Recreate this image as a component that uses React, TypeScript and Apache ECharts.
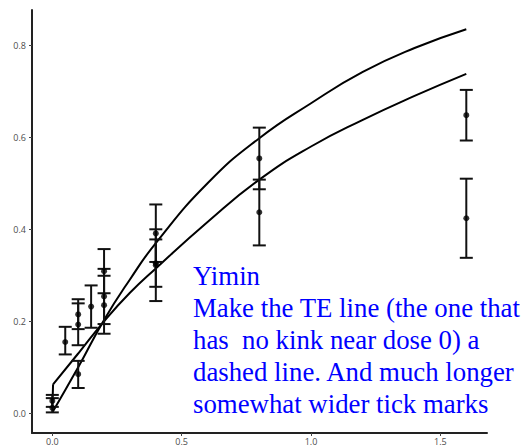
import React, { useEffect, useRef } from "react";
import * as echarts from "echarts";

// Observed data: dose, mean, lower, upper
const obsDose = [0, 0, 0.05, 0.1, 0.1, 0.1, 0.15, 0.2, 0.2, 0.2, 0.4, 0.4, 0.4, 0.8, 0.8, 1.6, 1.6];
const obsMean = [0.027, 0.012, 0.155, 0.215, 0.193, 0.085, 0.232, 0.309, 0.254, 0.235, 0.391, 0.322, 0.326, 0.554, 0.437, 0.648, 0.424];
const obsLower = [0.014, 0.002, 0.128, 0.183, 0.148, 0.055, 0.186, 0.261, 0.194, 0.173, 0.329, 0.244, 0.275, 0.487, 0.365, 0.593, 0.338];
const obsUpper = [0.040, 0.033, 0.188, 0.248, 0.239, 0.114, 0.278, 0.357, 0.314, 0.299, 0.454, 0.400, 0.378, 0.621, 0.508, 0.703, 0.510];

// TE curve (smooth, no kink)
const teDose = [0, 0.1, 0.2, 0.3, 0.4, 0.6, 0.8, 1.0, 1.2, 1.4, 1.6];
const teValue = [0.002, 0.1, 0.203, 0.291, 0.37, 0.5, 0.598, 0.674, 0.742, 0.794, 0.835];

// Kinked curve
const kinkDose = [0, 0.003];
const kinkValue = [0.012, 0.063];
const fitDose = [0.003, 0.1, 0.2, 0.3, 0.4, 0.6, 0.8, 1.0, 1.2, 1.4, 1.6];
const fitValue = [0.063, 0.13, 0.2, 0.262, 0.315, 0.416, 0.508, 0.58, 0.638, 0.69, 0.738];

const xTicks = [0, 0.5, 1.0, 1.5];
const yTicks = [0, 0.2, 0.4, 0.6, 0.8];

const noteLines = [
  "Yimin",
  "Make the TE line (the one that",
  "has  no kink near dose 0) a",
  "dashed line. And much longer",
  "somewhat wider tick marks",
];

export default function App() {
  const ref = useRef<HTMLDivElement>(null);
  useEffect(() => {
    document.body.style.margin = "0";
    if (!ref.current) return;
    const chart = echarts.init(ref.current, null, { renderer: "svg" });
    const zip = (a: number[], b: number[]) => a.map((v, i) => [v, b[i]]);
    const axisLabelStyle = {
      color: "#4d4d4d",
      fontSize: 9,
      fontFamily: "Open Sans",
      formatter: (v: number) => v.toFixed(1),
    };
    chart.setOption({
      animation: false,
      backgroundColor: "#ffffff",
      grid: { left: 32, top: 10, right: 37, bottom: 15, containLabel: false, outerBoundsMode: "none" },
      xAxis: {
        type: "value",
        min: -0.0785,
        max: 1.68,
        splitLine: { show: false },
        axisLine: { show: true, onZero: false, lineStyle: { color: "#222", width: 2 } },
        axisTick: { show: true, length: 3, customValues: xTicks, lineStyle: { color: "#444", width: 1 } },
        axisLabel: { ...axisLabelStyle, margin: 4, customValues: xTicks },
      },
      yAxis: {
        type: "value",
        min: -0.0428,
        max: 0.8767,
        splitLine: { show: false },
        axisLine: { show: true, onZero: false, lineStyle: { color: "#222", width: 2 } },
        axisTick: { show: true, length: 3, customValues: yTicks, lineStyle: { color: "#444", width: 1 } },
        axisLabel: { ...axisLabelStyle, margin: 6, customValues: yTicks },
      },
      series: [
        {
          type: "line",
          data: zip(teDose, teValue),
          smooth: 0.5,
          showSymbol: false,
          symbol: "none",
          lineStyle: { color: "#000", width: 2 },
          z: 3,
        },
        {
          type: "line",
          data: zip(kinkDose, kinkValue),
          showSymbol: false,
          symbol: "none",
          lineStyle: { color: "#000", width: 2 },
          z: 3,
        },
        {
          type: "line",
          data: zip(fitDose, fitValue),
          smooth: 0.5,
          showSymbol: false,
          symbol: "none",
          lineStyle: { color: "#000", width: 2 },
          z: 3,
        },
        {
          type: "custom",
          data: obsDose.map((d, i) => [d, obsLower[i], obsUpper[i]]),
          encode: { x: 0, y: [1, 2] },
          renderItem: (params: any, api: any) => {
            const x = api.value(0);
            const top = api.coord([x, api.value(2)]);
            const bot = api.coord([x, api.value(1)]);
            const hw = 6.5;
            const style = { stroke: "#111", lineWidth: 2, fill: null };
            return {
              type: "group",
              children: [
                { type: "line", shape: { x1: top[0], y1: top[1], x2: bot[0], y2: bot[1] }, style },
                { type: "line", shape: { x1: top[0] - hw, y1: top[1], x2: top[0] + hw, y2: top[1] }, style },
                { type: "line", shape: { x1: bot[0] - hw, y1: bot[1], x2: bot[0] + hw, y2: bot[1] }, style },
              ],
            };
          },
          z: 4,
        },
        {
          type: "scatter",
          data: zip(obsDose, obsMean),
          symbol: "circle",
          symbolSize: 6,
          itemStyle: { color: "#000" },
          z: 5,
        },
      ],
      graphic: [
        {
          type: "text",
          left: 193,
          top: 260,
          z: 10,
          style: {
            text: noteLines.join("\n"),
            font: '26.8px "Liberation Serif"',
            lineHeight: 32,
            fill: "#0000ff",
          },
        },
      ],
    });
    return () => chart.dispose();
  }, []);
  return (
    <div
      ref={ref}
      style={{ position: "fixed", left: 0, top: 0, width: 524, height: 448, background: "#fff" }}
    />
  );
}
